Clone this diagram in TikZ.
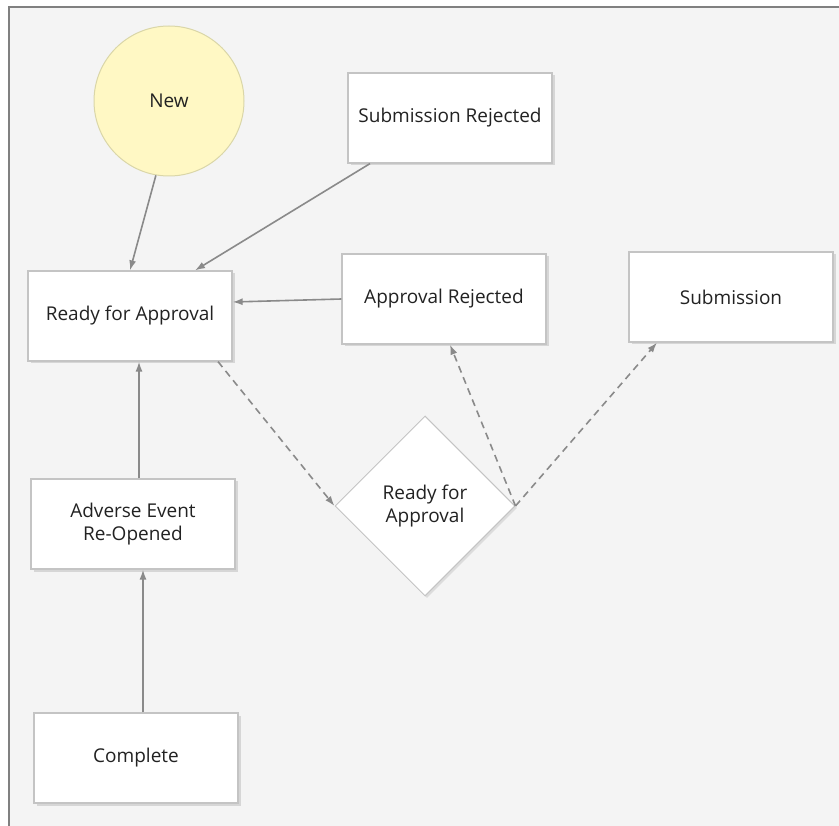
\documentclass[tikz,border=0pt]{standalone}
\usepackage{fontspec}
\setmainfont{Open Sans}
\usetikzlibrary{shapes.geometric,arrows.meta,shadows}
\definecolor{bgcol}{HTML}{F4F4F4}
\definecolor{framecol}{HTML}{808080}
\definecolor{boxline}{HTML}{C4C4C4}
\definecolor{newfill}{HTML}{FFF8C4}
\definecolor{newline}{HTML}{DAD6A8}
\definecolor{edgecol}{HTML}{8A8A8A}
\definecolor{textcol}{HTML}{222222}
\tikzset{
  state/.style={draw=boxline, line width=1.2pt, fill=white, minimum width=204pt,
    minimum height=90pt, align=center,
    drop shadow={opacity=0.25, shadow xshift=2.5pt, shadow yshift=-2.5pt}},
  choice/.style={diamond, draw=boxline, line width=1pt, fill=white, minimum width=180pt,
    minimum height=180pt, inner sep=0pt, align=center,
    drop shadow={opacity=0.2, shadow xshift=2pt, shadow yshift=-2pt}},
  start/.style={circle, draw=newline, line width=1pt, fill=newfill, minimum size=150pt},
  flow/.style={draw=edgecol, line width=1.6pt, -{Latex[length=10pt,width=7pt]}},
  maybe/.style={flow, dash pattern=on 7pt off 5pt},
}
\begin{document}
\begin{tikzpicture}[x=1pt, y=-1pt, every node/.style={font=\fontsize{19}{23}\selectfont, text=textcol}]
  \useasboundingbox (0,0) rectangle (839,826);
  \fill[bgcol] (8,7) rectangle (839,826);
  \draw[framecol, line width=2pt] (8.5,826) -- (8.5,7.5) -- (839,7.5);

  \node[start] (new) at (169,101) {New};
  \node[state] (subrej) at (450,118) {Submission Rejected};
  \node[state] (ready) at (130,316) {Ready for Approval};
  \node[state] (apprej) at (444,299) {Approval Rejected};
  \node[state] (sub) at (731,297) {Submission};
  \node[choice] (check) at (425,506) {Ready for\\Approval};
  \node[state] (reopen) at (133,524) {Adverse Event\\Re-Opened};
  \node[state] (done) at (136,758) {Complete};

  \draw[flow] (new.260) -- (ready.north);
  \draw[flow] ([xshift=-80pt]subrej.south) -- ([xshift=65pt]ready.north);
  \draw[flow] (apprej.west) -- ([yshift=14pt]ready.east);
  \draw[flow] ([xshift=6pt]reopen.north) -- ([xshift=9pt]ready.south);
  \draw[flow] ([xshift=7pt]done.north) -- ([xshift=10pt]reopen.south);
  \draw[maybe] ([xshift=88pt]ready.south) -- (check.west);
  \draw[maybe] (check.east) -- ([xshift=6pt]apprej.south);
  \draw[maybe] (check.east) -- ([xshift=-74pt]sub.south);
\end{tikzpicture}
\end{document}
